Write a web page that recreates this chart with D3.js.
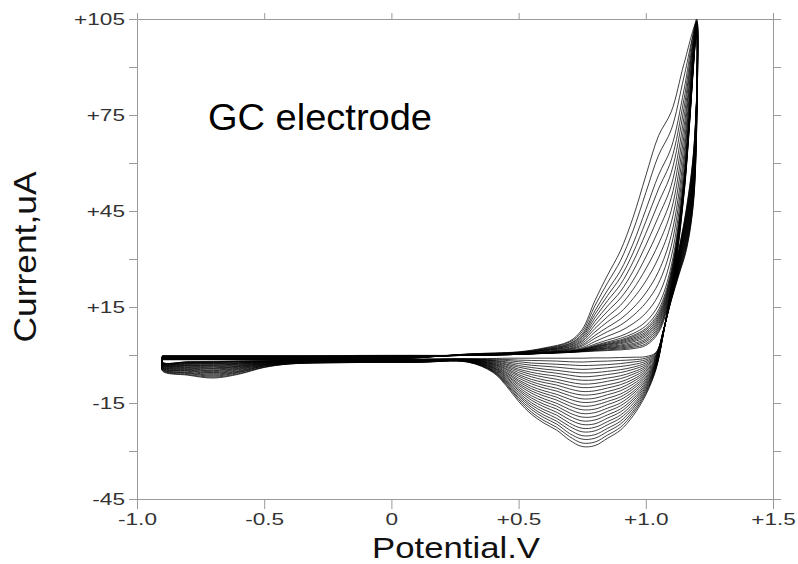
<!DOCTYPE html>
<html>
<head>
<meta charset="utf-8">
<script src="https://cdn.jsdelivr.net/npm/d3@7"></script>
<style>
  body { margin: 0; background: #fff; }
  svg { display: block; }
</style>
</head>
<body>
<div id="cv"></div>
<script>
// potentials (V) of the forward (anodic) sweep and the reverse (cathodic) sweep
const fwdPotential = [-0.9, -0.7, -0.5, -0.3, 0, 0.3, 0.5, 0.6, 0.7, 0.75, 0.8, 0.85, 0.9, 0.95, 1.0, 1.05, 1.1, 1.15, 1.2];
const revPotential = [1.19, 1.16, 1.13, 1.1, 1.07, 1.04, 1.0, 0.95, 0.9, 0.85, 0.8, 0.75, 0.7, 0.65, 0.6, 0.55, 0.5, 0.45, 0.4, 0.3, 0.1, -0.2, -0.4, -0.5, -0.6, -0.7, -0.8, -0.9];

// currents (uA), one row per potential, one value per cycle (25 cycles)
const fwdCurrent = [
  [-0.2,-0.3,-0.3,-0.4,-0.4,-0.5,-0.5,-0.6,-0.6,-0.7,-0.7,-0.8,-0.9,-0.9,-1.0,-1.0,-1.1,-1.1,-1.2,-1.2,-1.3,-1.3,-1.4,-1.4,-1.5],
  [-0.2,-0.3,-0.3,-0.4,-0.4,-0.5,-0.5,-0.6,-0.6,-0.7,-0.7,-0.8,-0.9,-0.9,-1.0,-1.0,-1.1,-1.1,-1.2,-1.2,-1.3,-1.3,-1.4,-1.4,-1.5],
  [-0.2,-0.3,-0.3,-0.4,-0.4,-0.5,-0.5,-0.6,-0.6,-0.7,-0.7,-0.8,-0.9,-0.9,-1.0,-1.0,-1.1,-1.1,-1.2,-1.2,-1.3,-1.3,-1.4,-1.4,-1.5],
  [-0.2,-0.3,-0.3,-0.4,-0.4,-0.5,-0.5,-0.6,-0.6,-0.7,-0.7,-0.8,-0.9,-0.9,-1.0,-1.0,-1.1,-1.1,-1.2,-1.2,-1.3,-1.3,-1.4,-1.4,-1.5],
  [-0.1,-0.2,-0.2,-0.3,-0.3,-0.4,-0.4,-0.5,-0.5,-0.6,-0.6,-0.7,-0.8,-0.8,-0.9,-0.9,-1.0,-1.0,-1.1,-1.1,-1.2,-1.2,-1.3,-1.3,-1.4],
  [-0.1,-0.1,-0.1,-0.1,-0.1,-0.1,-0.1,-0.1,-0.1,-0.1,-0.1,-0.1,0.0,0.0,0.0,0.0,0.1,0.1,0.1,0.1,0.2,0.2,0.2,0.3,0.3],
  [0.2,0.2,0.2,0.2,0.2,0.2,0.2,0.3,0.3,0.3,0.3,0.3,0.3,0.4,0.4,0.4,0.5,0.6,0.6,0.7,0.7,0.8,0.8,0.9,1.0],
  [0.5,0.5,0.5,0.6,0.6,0.6,0.6,0.6,0.6,0.7,0.7,0.7,0.7,0.8,0.9,1.0,1.1,1.3,1.4,1.5,1.6,1.7,1.9,2.0,2.2],
  [0.8,0.8,0.9,0.9,0.9,1.0,1.0,1.0,1.1,1.1,1.2,1.2,1.3,1.5,1.7,1.9,2.1,2.4,2.6,2.9,3.1,3.4,3.6,4.0,4.3],
  [1.0,1.1,1.1,1.2,1.3,1.4,1.4,1.5,1.6,1.6,1.7,1.8,2.0,2.3,2.8,3.2,3.7,4.2,4.6,5.1,5.6,6.1,6.6,7.3,8.0],
  [1.2,1.4,1.5,1.7,1.8,2.0,2.1,2.3,2.5,2.6,2.8,3.0,3.4,4.2,5.2,6.1,7.2,8.3,9.4,10.5,11.6,12.7,13.8,15.4,17.0],
  [1.4,1.6,1.9,2.1,2.3,2.6,2.8,3.1,3.3,3.5,3.8,4.1,4.7,5.9,7.3,8.7,10.4,12.0,13.7,15.3,17.0,18.6,20.3,22.6,25.0],
  [1.6,1.9,2.2,2.5,2.8,3.1,3.5,3.8,4.1,4.4,4.7,5.2,5.9,7.5,9.3,11.2,13.3,15.5,17.7,19.8,22.0,24.2,26.3,29.4,32.5],
  [2.0,2.4,2.8,3.2,3.6,4.1,4.5,4.9,5.3,5.7,6.1,6.7,7.7,9.8,12.3,14.7,17.6,20.5,23.3,26.2,29.1,31.9,34.8,38.9,43.0],
  [3.0,3.5,4.1,4.6,5.1,5.7,6.2,6.7,7.2,7.8,8.3,9.1,10.4,13.1,16.3,19.4,23.1,26.9,30.6,34.3,38.0,41.7,45.4,50.7,56.0],
  [7.0,7.6,8.2,8.8,9.5,10.1,10.7,11.3,11.9,12.5,13.2,14.1,15.6,18.7,22.4,26.1,30.4,34.7,39.0,43.3,47.6,51.9,56.2,62.4,68.5],
  [20.0,20.6,21.1,21.7,22.2,22.8,23.4,23.9,24.5,25.0,25.6,26.4,27.8,30.6,34.0,37.4,41.3,45.2,49.1,53.0,57.0,60.9,64.8,70.4,76.0],
  [50.0,50.4,50.8,51.2,51.6,52.1,52.5,52.9,53.3,53.7,54.1,54.7,55.7,57.8,60.3,62.7,65.6,68.5,71.3,74.2,77.1,79.9,82.8,86.9,91.0],
  [101,102,101.5,103,102,104,102.5,103,101,103.5,102,104,103,102,104.5,103,102.5,104,103,104.5,103.5,104,105,103.5,104]
];

const revCurrent = [
  [50.0,50.7,51.3,52.0,52.7,53.3,54.0,54.7,55.3,56.0,56.7,57.3,58.0,58.7,59.3,60.0,60.7,61.3,62.0,62.7,63.3,64.0,64.7,65.3,66.0],
  [33.0,33.5,34.1,34.6,35.2,35.7,36.3,36.8,37.3,37.9,38.4,39.0,39.5,40.0,40.6,41.1,41.7,42.2,42.8,43.3,43.8,44.4,44.9,45.5,46.0],
  [25.0,25.3,25.7,26.0,26.3,26.7,27.0,27.3,27.7,28.0,28.3,28.7,29.0,29.3,29.7,30.0,30.3,30.7,31.0,31.3,31.7,32.0,32.3,32.7,33.0],
  [17.0,17.2,17.3,17.5,17.7,17.8,18.0,18.2,18.3,18.5,18.7,18.8,19.0,19.2,19.3,19.5,19.7,19.8,20.0,20.2,20.3,20.5,20.7,20.8,21.0],
  [8.0,8.0,7.9,7.9,7.8,7.8,7.8,7.7,7.7,7.6,7.6,7.5,7.5,7.5,7.4,7.4,7.3,7.3,7.3,7.2,7.2,7.1,7.1,7.0,7.0],
  [0.8,0.6,0.4,0.1,-0.1,-0.3,-0.5,-0.7,-1.0,-1.2,-1.4,-1.6,-1.9,-2.1,-2.3,-2.5,-2.7,-3.0,-3.2,-3.4,-3.6,-3.8,-4.1,-4.3,-4.5],
  [-0.5,-1.0,-1.5,-2.0,-2.5,-3.0,-3.5,-4.0,-4.5,-5.0,-5.5,-6.0,-6.5,-7.0,-7.5,-8.0,-8.5,-9.0,-9.5,-10.0,-10.5,-11.0,-11.5,-12.0,-12.5],
  [-0.7,-1.5,-2.2,-3.0,-3.8,-4.5,-5.3,-6.0,-6.8,-7.6,-8.3,-9.1,-9.9,-10.6,-11.4,-12.1,-12.9,-13.7,-14.4,-15.2,-16.0,-16.7,-17.5,-18.2,-19.0],
  [-0.8,-1.7,-2.7,-3.6,-4.6,-5.5,-6.5,-7.4,-8.4,-9.3,-10.3,-11.2,-12.2,-13.1,-14.0,-15.0,-15.9,-16.9,-17.8,-18.8,-19.7,-20.7,-21.6,-22.6,-23.5],
  [-0.9,-1.9,-3.0,-4.0,-5.1,-6.1,-7.2,-8.2,-9.3,-10.3,-11.4,-12.4,-13.5,-14.5,-15.5,-16.6,-17.6,-18.7,-19.7,-20.8,-21.8,-22.9,-23.9,-25.0,-26.0],
  [-0.9,-2.0,-3.2,-4.3,-5.5,-6.6,-7.8,-8.9,-10.0,-11.2,-12.3,-13.5,-14.6,-15.7,-16.9,-18.0,-19.2,-20.3,-21.5,-22.6,-23.7,-24.9,-26.0,-27.2,-28.3],
  [-1.0,-2.2,-3.3,-4.5,-5.6,-6.8,-7.9,-9.1,-10.2,-11.4,-12.5,-13.7,-14.8,-16.0,-17.1,-18.3,-19.4,-20.6,-21.7,-22.9,-24.0,-25.2,-26.3,-27.5,-28.6],
  [-1.0,-2.1,-3.1,-4.2,-5.3,-6.3,-7.4,-8.5,-9.5,-10.6,-11.7,-12.7,-13.8,-14.9,-15.9,-17.0,-18.1,-19.1,-20.2,-21.3,-22.3,-23.4,-24.5,-25.5,-26.6],
  [-1.0,-1.9,-2.9,-3.8,-4.8,-5.7,-6.6,-7.6,-8.5,-9.4,-10.4,-11.3,-12.3,-13.2,-14.1,-15.1,-16.0,-16.9,-17.9,-18.8,-19.8,-20.7,-21.6,-22.6,-23.5],
  [-1.0,-1.8,-2.7,-3.5,-4.4,-5.2,-6.1,-6.9,-7.8,-8.6,-9.5,-10.3,-11.2,-12.0,-12.8,-13.7,-14.5,-15.4,-16.2,-17.1,-17.9,-18.8,-19.6,-20.5,-21.3],
  [-1.0,-1.7,-2.5,-3.2,-3.9,-4.6,-5.4,-6.1,-6.8,-7.6,-8.3,-9.0,-9.8,-10.5,-11.2,-11.9,-12.7,-13.4,-14.1,-14.9,-15.6,-16.3,-17.0,-17.8,-18.5],
  [-1.0,-1.6,-2.1,-2.7,-3.3,-3.8,-4.4,-4.9,-5.5,-6.1,-6.6,-7.2,-7.8,-8.3,-8.9,-9.4,-10.0,-10.6,-11.1,-11.7,-12.3,-12.8,-13.4,-13.9,-14.5],
  [-1.0,-1.4,-1.7,-2.1,-2.4,-2.8,-3.1,-3.5,-3.8,-4.2,-4.5,-4.9,-5.3,-5.6,-6.0,-6.3,-6.7,-7.0,-7.4,-7.7,-8.1,-8.4,-8.8,-9.1,-9.5],
  [-1.1,-1.3,-1.5,-1.7,-1.8,-2.0,-2.2,-2.4,-2.6,-2.8,-2.9,-3.1,-3.3,-3.5,-3.7,-3.9,-4.0,-4.2,-4.4,-4.6,-4.8,-5.0,-5.1,-5.3,-5.5],
  [-1.2,-1.2,-1.3,-1.3,-1.4,-1.4,-1.5,-1.5,-1.5,-1.6,-1.6,-1.7,-1.7,-1.7,-1.8,-1.8,-1.9,-1.9,-2.0,-2.0,-2.0,-2.1,-2.1,-2.2,-2.2],
  [-1.3,-1.3,-1.4,-1.4,-1.5,-1.5,-1.6,-1.6,-1.6,-1.7,-1.7,-1.8,-1.8,-1.8,-1.9,-1.9,-2.0,-2.0,-2.1,-2.1,-2.1,-2.2,-2.2,-2.3,-2.3],
  [-1.4,-1.4,-1.5,-1.5,-1.6,-1.6,-1.7,-1.7,-1.7,-1.8,-1.8,-1.9,-1.9,-1.9,-2.0,-2.0,-2.1,-2.1,-2.2,-2.2,-2.2,-2.3,-2.3,-2.4,-2.4],
  [-1.6,-1.7,-1.7,-1.8,-1.8,-1.9,-1.9,-2.0,-2.0,-2.1,-2.1,-2.2,-2.2,-2.3,-2.3,-2.4,-2.4,-2.5,-2.5,-2.6,-2.6,-2.7,-2.7,-2.8,-2.8],
  [-1.8,-1.8,-1.9,-1.9,-2.0,-2.0,-2.1,-2.2,-2.3,-2.3,-2.4,-2.5,-2.6,-2.7,-2.8,-2.9,-3.0,-3.1,-3.2,-3.3,-3.4,-3.5,-3.7,-3.8,-3.9],
  [-1.9,-1.9,-2.0,-2.1,-2.2,-2.4,-2.5,-2.6,-2.8,-2.9,-3.1,-3.3,-3.5,-3.6,-3.8,-4.0,-4.2,-4.4,-4.6,-4.9,-5.1,-5.3,-5.5,-5.8,-6.0],
  [-2.0,-2.1,-2.2,-2.3,-2.4,-2.6,-2.7,-2.9,-3.1,-3.3,-3.5,-3.7,-4.0,-4.2,-4.4,-4.7,-4.9,-5.2,-5.5,-5.7,-6.0,-6.3,-6.6,-6.9,-7.2],
  [-2.1,-2.2,-2.2,-2.3,-2.4,-2.6,-2.7,-2.8,-3.0,-3.2,-3.3,-3.5,-3.7,-3.9,-4.1,-4.3,-4.5,-4.7,-4.9,-5.1,-5.4,-5.6,-5.8,-6.1,-6.3],
  [-2.3,-2.3,-2.4,-2.4,-2.5,-2.6,-2.7,-2.8,-2.9,-3.0,-3.1,-3.2,-3.3,-3.4,-3.6,-3.7,-3.8,-4.0,-4.1,-4.2,-4.4,-4.5,-4.7,-4.8,-5.0]
];

// axis ticks and labels
const xTicks = [-1.0, -0.5, 0, 0.5, 1.0, 1.5];
const xTickLabels = ["-1.0", "-0.5", "0", "+0.5", "+1.0", "+1.5"];
const yTicks = [-45, -30, -15, 0, 15, 30, 45, 60, 75, 90, 105];
const yTickLabels = ["-45", "", "-15", "", "+15", "", "+45", "", "+75", "", "+105"];
const xTitle = "Potential.V";
const yTitle = "Current,uA";
const note = "GC electrode";

const W = 798, H = 564;
const margin = {top: 19, right: 25, bottom: 65, left: 137};
const width = W - margin.left - margin.right,
      height = H - margin.top - margin.bottom;

const svg = d3.select("#cv")
  .append("svg")
  .attr("width", W)
  .attr("height", H)
  .style("font-family", "'Liberation Sans', Arial, sans-serif");

const g = svg.append("g")
  .attr("transform", `translate(${margin.left},${margin.top})`);

const x = d3.scaleLinear().domain([-1.0, 1.5]).range([0, width]);
const y = d3.scaleLinear().domain([-45, 105]).range([height, 0]);

const axisColor = "#9a9a9a";
const stretch = 1.33; // tick labels are drawn a little wide

// bottom axis
const xAxis = g.append("g")
  .attr("transform", `translate(0,${height})`)
  .call(d3.axisBottom(x).tickValues(xTicks).tickSize(10).tickSizeOuter(0)
    .tickFormat((d, i) => xTickLabels[i]));
xAxis.selectAll("text")
  .attr("y", 26).attr("dy", 0)
  .attr("transform", `scale(${stretch},1)`);

// left axis
const yAxis = g.append("g")
  .call(d3.axisLeft(y).tickValues(yTicks).tickSize(8).tickSizeOuter(0)
    .tickFormat((d, i) => yTickLabels[i]));
yAxis.selectAll("text")
  .attr("x", -12 / stretch)
  .attr("transform", `scale(${stretch},1)`);

// top and right frame with outward ticks
g.append("g")
  .call(d3.axisTop(x).tickValues(xTicks).tickSize(6).tickSizeOuter(0).tickFormat(""));
g.append("g")
  .attr("transform", `translate(${width},0)`)
  .call(d3.axisRight(y).tickValues(yTicks).tickSize(8).tickSizeOuter(0).tickFormat(""));

g.selectAll(".domain, .tick line").attr("stroke", axisColor).attr("stroke-width", 1);
g.selectAll(".tick text")
  .attr("fill", "#333")
  .style("font-size", "17px");

// voltammograms: forward sweep then reverse sweep, back to the start
const cycles = d3.range(fwdCurrent[0].length).map(k => {
  const pts = fwdPotential.map((e, i) => [e, fwdCurrent[i][k]])
    .concat(revPotential.map((e, i) => [e, revCurrent[i][k]]));
  pts.push([fwdPotential[0], fwdCurrent[0][k]]);
  return pts;
});

const line = d3.line()
  .x(d => x(d[0]))
  .y(d => y(d[1]))
  .curve(d3.curveCatmullRom.alpha(0.5));

g.append("g")
  .selectAll("path")
  .data(cycles)
  .join("path")
  .attr("d", line)
  .attr("fill", "none")
  .attr("stroke", "#000")
  .attr("stroke-width", 0.75);

// titles
svg.append("text")
  .attr("x", 456).attr("y", 558)
  .attr("text-anchor", "middle")
  .attr("textLength", 168).attr("lengthAdjust", "spacingAndGlyphs")
  .style("font-size", "29px")
  .attr("fill", "#111")
  .text(xTitle);

svg.append("text")
  .attr("transform", "translate(36,257) rotate(-90)")
  .attr("text-anchor", "middle")
  .attr("textLength", 171).attr("lengthAdjust", "spacingAndGlyphs")
  .style("font-size", "32px")
  .attr("fill", "#111")
  .text(yTitle);

svg.append("text")
  .attr("x", 208).attr("y", 130)
  .attr("textLength", 224).attr("lengthAdjust", "spacingAndGlyphs")
  .style("font-size", "37px")
  .attr("fill", "#000")
  .text(note);
</script>
</body>
</html>
